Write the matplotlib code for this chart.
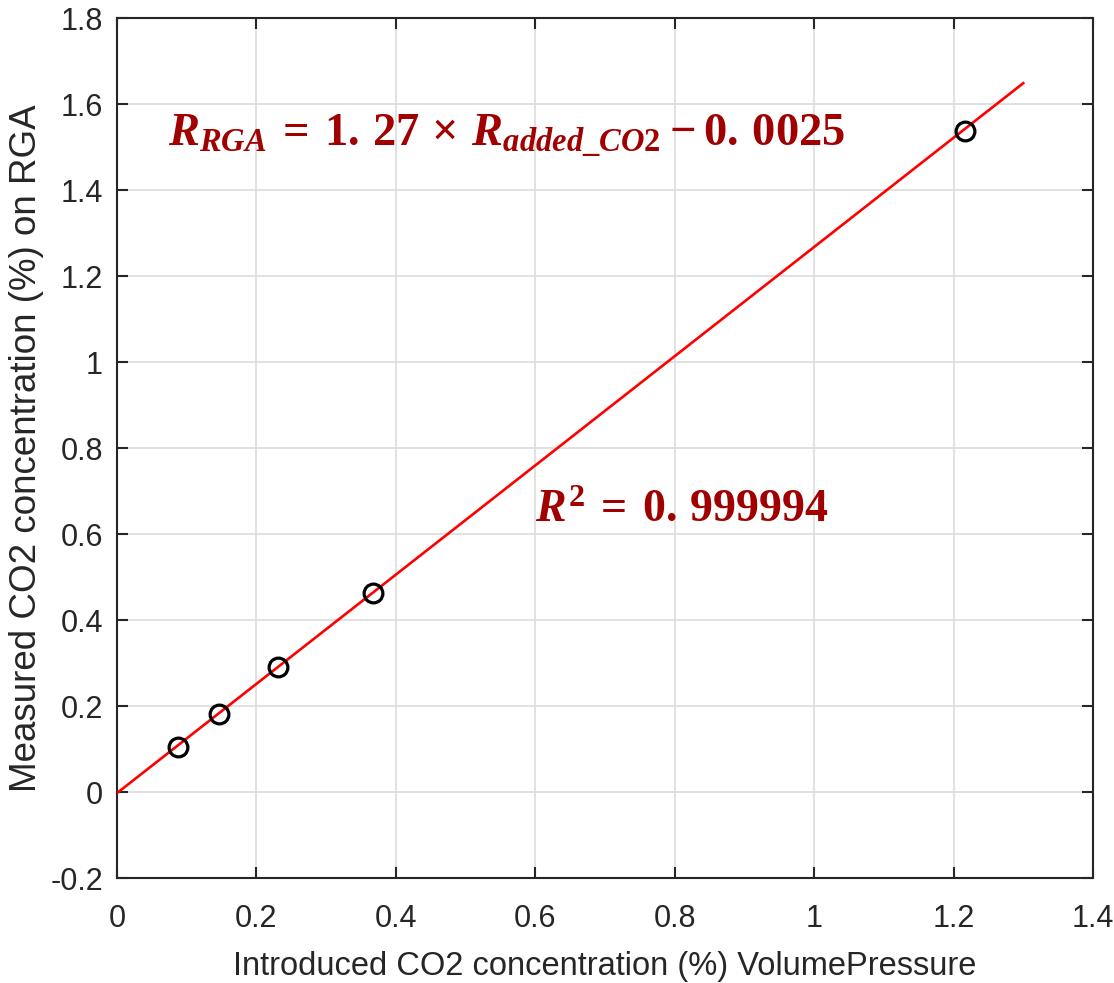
import matplotlib
matplotlib.use("Agg")
import matplotlib.pyplot as plt
import numpy as np

# Calibration measurements
introduced_co2 = [0.0871, 0.1468, 0.2314, 0.3667, 1.2166]
measured_co2 = [0.104, 0.181, 0.290, 0.462, 1.538]

# Linear fit reported on the chart
slope = 1.27
intercept = -0.0025
fit_x_range = [0.0, 1.30]

x_ticks = [0, 0.2, 0.4, 0.6, 0.8, 1, 1.2, 1.4]
y_ticks = [-0.2, 0, 0.2, 0.4, 0.6, 0.8, 1, 1.2, 1.4, 1.6, 1.8]

plt.rcParams["font.family"] = ["Liberation Sans", "DejaVu Sans"]
plt.rcParams["mathtext.fontset"] = "custom"
plt.rcParams["mathtext.rm"] = "Liberation Serif:bold"
plt.rcParams["mathtext.it"] = "Liberation Serif:bold:italic"
plt.rcParams["mathtext.bf"] = "Liberation Serif:bold"

fig = plt.figure(figsize=(11.14, 9.83), dpi=100)
ax = fig.add_axes([117 / 1114, 1 - 878 / 983, (1093 - 117) / 1114, (878 - 18) / 983])

fx = np.array(fit_x_range)
ax.plot(fx, slope * fx + intercept, color="#ff0000", lw=1.9, zorder=3)
ax.plot(introduced_co2, measured_co2, "o", mfc="none", mec="black",
        ms=13.5, mew=2.3, zorder=4)

ax.set_xlim(0, 1.4)
ax.set_ylim(-0.2, 1.8)
ax.set_xticks(x_ticks)
ax.set_yticks(y_ticks)
ax.set_xticklabels([f"{t:g}" for t in x_ticks])
ax.set_yticklabels([f"{t:g}" for t in y_ticks])

ax.grid(True, color="#dcdcdc", lw=1.2)
ax.set_axisbelow(True)
ax.tick_params(direction="in", length=8, width=1.5, top=True, right=True,
               labelsize=22, colors="#262626")
ax.tick_params(axis="x", pad=19)
ax.tick_params(axis="y", pad=10)
for s in ax.spines.values():
    s.set_linewidth(1.5)
    s.set_color("#262626")

ax.set_xlabel("Introduced CO2 concentration (%) VolumePressure",
              fontsize=23.5, color="#262626", labelpad=12)
ax.set_ylabel("Measured CO2 concentration (%) on RGA",
              fontsize=26.5, color="#262626", labelpad=5)

eq_color = "#a00000"
ax.text(0.073, 1.50,
        r"$R_{RGA}\:=\:1.\,27\,\times\,R_{added\_CO2}\:-\:0.\,0025$",
        fontsize=33.5, color=eq_color, va="baseline", ha="left")
ax.text(0.5997, 0.628, r"$R^{2}\:=\:0.\,999994$",
        fontsize=33, color=eq_color, va="baseline", ha="left")

fig.savefig("out.png", dpi=100)
